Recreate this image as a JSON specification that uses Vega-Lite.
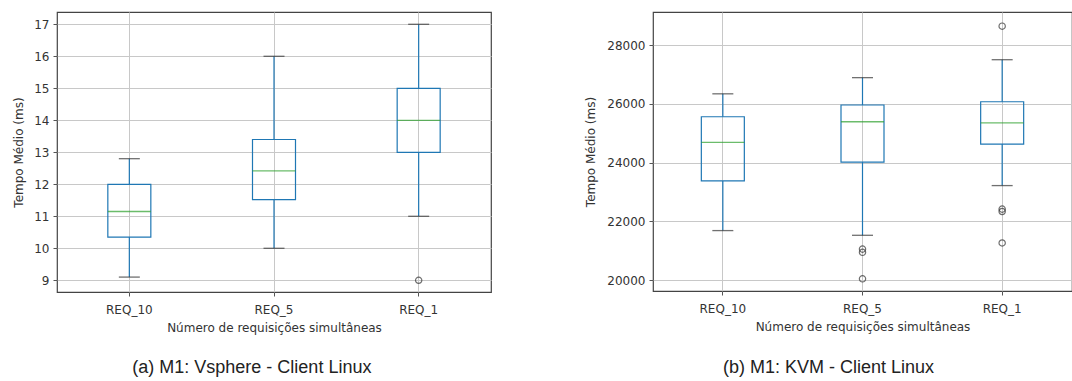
{
  "$schema": "https://vega.github.io/schema/vega-lite/v6.json",
  "background": "white",
  "padding": {"left": 12, "top": 11, "right": 5, "bottom": 0},
  "spacing": 92,
  "config": {
    "font": "DejaVu Sans",
    "view": {"stroke": "#444", "strokeWidth": 1.2},
    "axis": {
      "labelFont": "DejaVu Sans", "labelFontSize": 12, "labelColor": "#333", "labelOverlap": false,
      "titleFont": "DejaVu Sans", "titleFontSize": 12, "titleFontWeight": "normal", "titleColor": "#333",
      "tickColor": "#555", "tickSize": 4, "domain": false,
      "grid": true, "gridColor": "#c8c8c8", "gridWidth": 1
    }
  },
  "datasets": {
    "statsA": [
      {"req": "REQ_10", "lower": 9.1, "q1": 10.35, "median": 11.15, "q3": 12.0, "upper": 12.8},
      {"req": "REQ_5", "lower": 10.0, "q1": 11.52, "median": 12.42, "q3": 13.4, "upper": 16.0},
      {"req": "REQ_1", "lower": 11.0, "q1": 13.0, "median": 14.0, "q3": 15.0, "upper": 17.0}
    ],
    "outA": [
      {"req": "REQ_1", "value": 9.0}
    ],
    "statsB": [
      {"req": "REQ_10", "lower": 21690, "q1": 23380, "median": 24690, "q3": 25560, "upper": 26340},
      {"req": "REQ_5", "lower": 21530, "q1": 24020, "median": 25390, "q3": 25960, "upper": 26890},
      {"req": "REQ_1", "lower": 23220, "q1": 24630, "median": 25350, "q3": 26070, "upper": 27500}
    ],
    "outB": [
      {"req": "REQ_5", "value": 21060},
      {"req": "REQ_5", "value": 20950},
      {"req": "REQ_5", "value": 20050},
      {"req": "REQ_1", "value": 28640},
      {"req": "REQ_1", "value": 22420},
      {"req": "REQ_1", "value": 22340},
      {"req": "REQ_1", "value": 21270}
    ]
  },
  "hconcat": [
    {
      "width": 434,
      "height": 280,
      "title": {"text": "(a) M1: Vsphere - Client Linux", "orient": "bottom", "frame": "bounds", "anchor": "middle", "font": "Liberation Sans", "fontSize": 18, "fontWeight": "normal", "color": "#222", "offset": 26},
      "encoding": {
        "x": {"field": "req", "type": "nominal", "sort": ["REQ_10", "REQ_5", "REQ_1"], "scale": {"paddingInner": 0, "paddingOuter": 0},
              "title": "Número de requisições simultâneas",
              "axis": {"labelAngle": 0, "bandPosition": 0.5, "labelPadding": 8, "titlePadding": 7}}
      },
      "layer": [
        {"data": {"name": "statsA"}, "mark": {"type": "rule", "color": "#1f77b4", "strokeWidth": 1.2},
         "encoding": {"y": {"field": "lower", "type": "quantitative", "title": "Tempo Médio (ms)", "scale": {"domain": [8.634, 17.384], "nice": false, "zero": false},
                            "axis": {"values": [9, 10, 11, 12, 13, 14, 15, 16, 17], "labelPadding": 4, "titlePadding": 8}},
                      "y2": {"field": "q1"}}},
        {"data": {"name": "statsA"}, "mark": {"type": "rule", "color": "#1f77b4", "strokeWidth": 1.2},
         "encoding": {"y": {"field": "q3", "type": "quantitative", "title": "Tempo Médio (ms)", "axis": {"values": [9, 10, 11, 12, 13, 14, 15, 16, 17], "labelPadding": 4, "titlePadding": 8}}, "y2": {"field": "upper"}}},
        {"data": {"name": "statsA"}, "mark": {"type": "bar", "size": 43, "fillOpacity": 0, "stroke": "#1f77b4", "strokeWidth": 1.2},
         "encoding": {"y": {"field": "q1", "type": "quantitative", "title": "Tempo Médio (ms)", "axis": {"values": [9, 10, 11, 12, 13, 14, 15, 16, 17], "labelPadding": 4, "titlePadding": 8}}, "y2": {"field": "q3"}}},
        {"data": {"name": "statsA"}, "mark": {"type": "tick", "size": 43, "thickness": 1.3, "color": "#2ca02c"},
         "encoding": {"y": {"field": "median", "type": "quantitative", "title": "Tempo Médio (ms)", "axis": {"values": [9, 10, 11, 12, 13, 14, 15, 16, 17], "labelPadding": 4, "titlePadding": 8}}}},
        {"data": {"name": "statsA"}, "mark": {"type": "tick", "size": 21, "thickness": 1.3, "color": "#333"},
         "encoding": {"y": {"field": "lower", "type": "quantitative", "title": "Tempo Médio (ms)", "axis": {"values": [9, 10, 11, 12, 13, 14, 15, 16, 17], "labelPadding": 4, "titlePadding": 8}}}},
        {"data": {"name": "statsA"}, "mark": {"type": "tick", "size": 21, "thickness": 1.3, "color": "#333"},
         "encoding": {"y": {"field": "upper", "type": "quantitative", "title": "Tempo Médio (ms)", "axis": {"values": [9, 10, 11, 12, 13, 14, 15, 16, 17], "labelPadding": 4, "titlePadding": 8}}}},
        {"data": {"name": "outA"}, "mark": {"type": "point", "shape": "circle", "filled": false, "color": "#333", "size": 40, "strokeWidth": 1.2},
         "encoding": {"y": {"field": "value", "type": "quantitative", "title": "Tempo Médio (ms)", "axis": {"values": [9, 10, 11, 12, 13, 14, 15, 16, 17], "labelPadding": 4, "titlePadding": 8}}}}
      ]
    },
    {
      "width": 419,
      "height": 279,
      "title": {"text": "(b) M1: KVM - Client Linux", "orient": "bottom", "frame": "bounds", "anchor": "middle", "font": "Liberation Sans", "fontSize": 18, "fontWeight": "normal", "color": "#222", "offset": 27},
      "encoding": {
        "x": {"field": "req", "type": "nominal", "sort": ["REQ_10", "REQ_5", "REQ_1"], "scale": {"paddingInner": 0, "paddingOuter": 0},
              "title": "Número de requisições simultâneas",
              "axis": {"labelAngle": 0, "bandPosition": 0.5, "labelPadding": 8, "titlePadding": 7}}
      },
      "layer": [
        {"data": {"name": "statsB"}, "mark": {"type": "rule", "color": "#1f77b4", "strokeWidth": 1.2},
         "encoding": {"y": {"field": "lower", "type": "quantitative", "title": "Tempo Médio (ms)", "scale": {"domain": [19636, 29122], "nice": false, "zero": false},
                            "axis": {"values": [20000, 22000, 24000, 26000, 28000], "format": "d", "labelPadding": 4, "titlePadding": 9}},
                      "y2": {"field": "q1"}}},
        {"data": {"name": "statsB"}, "mark": {"type": "rule", "color": "#1f77b4", "strokeWidth": 1.2},
         "encoding": {"y": {"field": "q3", "type": "quantitative", "title": "Tempo Médio (ms)", "axis": {"values": [20000, 22000, 24000, 26000, 28000], "format": "d", "labelPadding": 4, "titlePadding": 9}}, "y2": {"field": "upper"}}},
        {"data": {"name": "statsB"}, "mark": {"type": "bar", "size": 43, "fillOpacity": 0, "stroke": "#1f77b4", "strokeWidth": 1.2},
         "encoding": {"y": {"field": "q1", "type": "quantitative", "title": "Tempo Médio (ms)", "axis": {"values": [20000, 22000, 24000, 26000, 28000], "format": "d", "labelPadding": 4, "titlePadding": 9}}, "y2": {"field": "q3"}}},
        {"data": {"name": "statsB"}, "mark": {"type": "tick", "size": 43, "thickness": 1.3, "color": "#2ca02c"},
         "encoding": {"y": {"field": "median", "type": "quantitative", "title": "Tempo Médio (ms)", "axis": {"values": [20000, 22000, 24000, 26000, 28000], "format": "d", "labelPadding": 4, "titlePadding": 9}}}},
        {"data": {"name": "statsB"}, "mark": {"type": "tick", "size": 21, "thickness": 1.3, "color": "#333"},
         "encoding": {"y": {"field": "lower", "type": "quantitative", "title": "Tempo Médio (ms)", "axis": {"values": [20000, 22000, 24000, 26000, 28000], "format": "d", "labelPadding": 4, "titlePadding": 9}}}},
        {"data": {"name": "statsB"}, "mark": {"type": "tick", "size": 21, "thickness": 1.3, "color": "#333"},
         "encoding": {"y": {"field": "upper", "type": "quantitative", "title": "Tempo Médio (ms)", "axis": {"values": [20000, 22000, 24000, 26000, 28000], "format": "d", "labelPadding": 4, "titlePadding": 9}}}},
        {"data": {"name": "outB"}, "mark": {"type": "point", "shape": "circle", "filled": false, "color": "#333", "size": 40, "strokeWidth": 1.2},
         "encoding": {"y": {"field": "value", "type": "quantitative", "title": "Tempo Médio (ms)", "axis": {"values": [20000, 22000, 24000, 26000, 28000], "format": "d", "labelPadding": 4, "titlePadding": 9}}}}
      ]
    }
  ]
}
